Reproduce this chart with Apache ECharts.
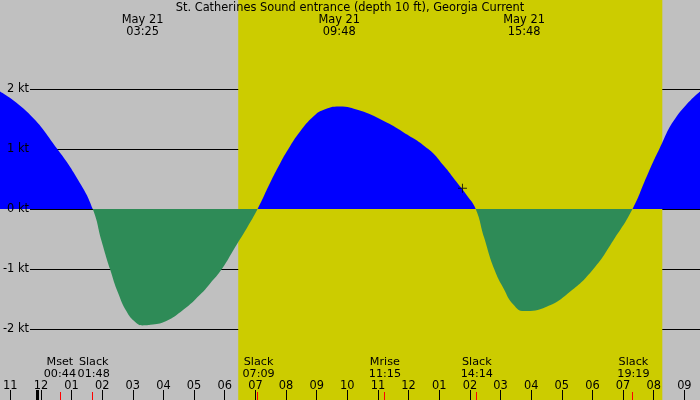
<!DOCTYPE html>
<html>
<head>
<meta charset="utf-8">
<script src="https://cdn.jsdelivr.net/npm/echarts@6/dist/echarts.min.js"></script>
<style>
  html, body { margin: 0; padding: 0; background: #c0c0c0; }
  #chart { width: 700px; height: 400px; }
</style>
</head>
<body>
<div id="chart"></div>
<script>
// tidal current, hours from midnight May 21 / knots (+ flood, - ebb)
const flowHours = [-1.21, -0.29, 0.65, 1.33, 1.80,
  2.09, 2.36, 2.63, 2.90, 3.17, 3.42, 3.67, 4.17, 4.74, 5.28, 5.61, 5.99, 6.43, 6.80, 7.15,
  7.55, 7.88, 8.15, 8.53, 8.96, 9.28, 9.80, 10.47, 11.23, 11.88, 12.69, 13.18, 13.61, 13.94, 14.23,
  14.50, 14.83, 15.13, 15.45, 15.80, 16.53, 17.29, 18.05, 18.70, 19.32,
  19.78, 20.19, 20.75, 21.51];
const flowKnots = [1.96, 1.60, 1.00, 0.48, 0,
  -0.54, -1.00, -1.41, -1.71, -1.88, -1.94, -1.93, -1.87, -1.68, -1.43, -1.24, -1.00, -0.63, -0.32, 0,
  0.43, 0.76, 1.00, 1.29, 1.54, 1.65, 1.71, 1.64, 1.47, 1.28, 1.00, 0.73, 0.45, 0.23, 0,
  -0.47, -1.00, -1.32, -1.59, -1.70, -1.63, -1.38, -1.00, -0.52, 0,
  0.54, 1.00, 1.54, 1.96];

// events along the bottom
const eventNames = ['Mset', 'Slack', 'Slack', 'Mrise', 'Slack', 'Slack'];
const eventTimes = ['00:44', '01:48', '07:09', '11:15', '14:14', '19:19'];

// max flood / max ebb labels at the top
const extremeDate = 'May 21';
const extremeTimes = ['03:25', '09:48', '15:48'];

const hourTicks = [-1, 0, 1, 2, 3, 4, 5, 6, 7, 8, 9, 10, 11, 12, 13, 14, 15, 16, 17, 18, 19, 20, 21];
const sunrise = 6.44;
const sunset = 20.28;
const nowMark = [13.80, 0.345];

const title = 'St. Catherines Sound entrance (depth 10 ft), Georgia Current';

const xMin = -1.21;
const xMax = 21.51;
const FONT = 'DejaVu Sans';
const FS = 11.4;
const FLOOD = '#0000ff';
const EBB = '#2e8b57';

function toHours(t) {
  const p = t.split(':');
  return +p[0] + (+p[1]) / 60;
}
const eventHours = eventTimes.map(toHours);
const extremeHours = extremeTimes.map(toHours);

function hourLabel(v) {
  const h = ((Math.round(v) % 12) + 12) % 12 || 12;
  return (h < 10 ? '0' : '') + h;
}
function nearest(list, v) {
  let best = 0;
  list.forEach((x, i) => {
    if (Math.abs(x - v) < Math.abs(list[best] - v)) best = i;
  });
  return best;
}
function eventLabel(v) {
  const i = nearest(eventHours, v);
  return eventNames[i] + '\n' + eventTimes[i];
}

const chart = echarts.init(document.getElementById('chart'));

const fullGrid = { left: 0, right: 0, top: 0, bottom: 0 };
const plotGrid = { left: 0, right: 0, top: 89, height: 240 };
const lineGrid = { left: 30, right: 0, top: 89, height: 240 };

const hiddenX = (i) => ({ type: 'value', gridIndex: i, min: xMin, max: xMax, show: false });
const hiddenY = (i) => ({ type: 'value', gridIndex: i, min: 0, max: 1, show: false });
const textStyle = { color: '#000', fontSize: FS, fontFamily: FONT, lineHeight: 12 };

// one bottom axis of red event ticks + two-line labels
const eventAxis = (grid, values, pad) => ({
  type: 'value', gridIndex: grid, min: xMin, max: xMax, position: 'bottom', z: 6,
  axisLine: { show: false },
  splitLine: { show: false },
  axisTick: { inside: true, length: 8, customValues: values, lineStyle: { color: '#ff0000', width: 1 } },
  axisLabel: Object.assign({}, textStyle, {
    fontSize: 11.2, inside: true, margin: 20, hideOverlap: false, padding: [0, 0, 0, pad],
    customValues: values, formatter: eventLabel,
  }),
});

const option = {
  backgroundColor: '#c0c0c0',
  animation: false,
  title: {
    text: title,
    left: 'center',
    top: 2,
    padding: 0,
    textStyle: Object.assign({ fontWeight: 'normal' }, textStyle),
  },
  grid: [plotGrid, lineGrid, lineGrid, fullGrid, fullGrid, fullGrid, fullGrid, fullGrid],
  xAxis: [
    hiddenX(0),
    hiddenX(1),
    hiddenX(2),
    {
      // hour ticks
      type: 'value', gridIndex: 3, min: xMin, max: xMax, position: 'bottom', z: 5,
      axisLine: { show: false },
      splitLine: { show: false },
      axisTick: { inside: true, length: 10, customValues: hourTicks, lineStyle: { color: '#000', width: 1 } },
      axisLabel: Object.assign({ inside: true, margin: 8, hideOverlap: false, customValues: hourTicks, formatter: hourLabel }, textStyle),
    },
    // Mset sits right next to the first slack, keep it on its own axis
    eventAxis(4, eventHours.slice(1), 2),
    {
      // midnight
      type: 'value', gridIndex: 5, min: xMin, max: xMax, position: 'bottom', z: 6,
      axisLine: { show: false },
      splitLine: { show: false },
      axisTick: { inside: true, length: 10, customValues: [0], lineStyle: { color: '#000', width: 3 } },
      axisLabel: { show: false },
    },
    {
      // extremes at the top
      type: 'value', gridIndex: 6, min: xMin, max: xMax, position: 'top', z: 5,
      axisLine: { show: false },
      splitLine: { show: false },
      axisTick: { show: false },
      axisLabel: Object.assign({
        inside: true, margin: 14, hideOverlap: false, customValues: extremeHours,
        formatter: (v) => extremeDate + '\n' + extremeTimes[nearest(extremeHours, v)],
      }, textStyle),
    },
    eventAxis(7, eventHours.slice(0, 1), 0),
  ],
  yAxis: [
    { type: 'value', gridIndex: 0, min: -2, max: 2, show: false },
    {
      type: 'value', gridIndex: 1, min: -2, max: 2, interval: 1, z: 0,
      axisLine: { show: false }, axisTick: { show: false }, axisLabel: { show: false },
      splitLine: { lineStyle: { color: '#000', width: 1 } },
    },
    {
      type: 'value', gridIndex: 2, min: -2, max: 2, interval: 1, z: 5,
      axisLine: { show: false }, axisTick: { show: false }, splitLine: { show: false },
      axisLabel: Object.assign({ margin: 2, formatter: (v) => v + ' kt' }, textStyle),
    },
    hiddenY(3),
    hiddenY(4),
    hiddenY(5),
    hiddenY(6),
    hiddenY(7),
  ],
  series: [
    {
      type: 'line',
      xAxisIndex: 0,
      yAxisIndex: 0,
      data: flowHours.map((h, i) => [h, flowKnots[i]]),
      smooth: 0.5,
      showSymbol: false,
      lineStyle: { width: 0, opacity: 0 },
      areaStyle: { opacity: 1, color: FLOOD },
      silent: true,
      z: 2,
    },
    {
      // daylight band
      type: 'line',
      xAxisIndex: 3,
      yAxisIndex: 3,
      data: [[0, 0]],
      showSymbol: false,
      lineStyle: { width: 0 },
      silent: true,
      z: -10,
      markArea: {
        silent: true,
        itemStyle: { color: '#cccc00' },
        data: [[{ xAxis: sunrise }, { xAxis: sunset }]],
      },
    },
    {
      type: 'scatter',
      xAxisIndex: 0,
      yAxisIndex: 0,
      data: [nowMark],
      symbol: 'path://M0,4H9V5H0Z M4,0H5V9H4Z',
      symbolSize: 9,
      itemStyle: { color: '#000' },
      silent: true,
      z: 4,
    },
  ],
};

chart.setOption(option);

// split the fill colour at the zero line: blue above (flood), green below (ebb)
const zeroY = chart.convertToPixel({ gridIndex: 0 }, [0, 0])[1];
const f = zeroY / chart.getHeight();
chart.setOption({
  series: [{
    areaStyle: {
      opacity: 1,
      color: new echarts.graphic.LinearGradient(0, 0, 0, chart.getHeight(), [
        { offset: 0, color: FLOOD },
        { offset: f, color: FLOOD },
        { offset: f, color: EBB },
        { offset: 1, color: EBB },
      ], true),
    },
  }],
});
</script>
</body>
</html>
